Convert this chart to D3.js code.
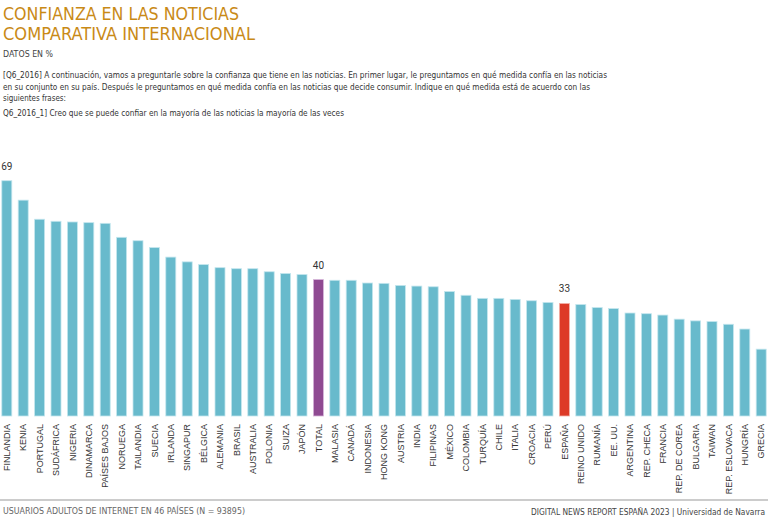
<!DOCTYPE html>
<html><head><meta charset="utf-8">
<script src="https://cdn.jsdelivr.net/npm/d3@7"></script>
<style>
body{margin:0;background:#fff;}
svg{display:block;font-family:"Liberation Sans Narrow","DejaVu Sans Condensed","Roboto Condensed",sans-serif;}
</style></head>
<body><svg id="c" width="768" height="528"></svg>
<script>
const countries = ["FINLANDIA","KENIA","PORTUGAL","SUDÁFRICA","NIGERIA","DINAMARCA","PAÍSES BAJOS","NORUEGA","TAILANDIA","SUECIA","IRLANDA","SINGAPUR","BÉLGICA","ALEMANIA","BRASIL","AUSTRALIA","POLONIA","SUIZA","JAPÓN","TOTAL","MALASIA","CANADÁ","INDONESIA","HONG KONG","AUSTRIA","INDIA","FILIPINAS","MÉXICO","COLOMBIA","TURQUÍA","CHILE","ITALIA","CROACIA","PERÚ","ESPAÑA","REINO UNIDO","RUMANÍA","EE. UU.","ARGENTINA","REP. CHECA","FRANCIA","REP. DE COREA","BULGARIA","TAIWAN","REP. ESLOVACA","HUNGRÍA","GRECIA"];
const trustValues = [69,63.3,57.7,57.1,56.9,56.7,56.5,52.4,51.4,49.4,46.6,45.2,44.4,43.5,43.2,43.2,42.3,41.8,41.5,40,39.8,39.8,39.0,38.9,38.3,38.1,37.9,36.5,35.4,34.5,34.5,34.2,33.8,33.3,33,32.7,31.8,31.5,30.2,30.0,29.6,28.4,27.9,27.7,26.9,25.5,19.6];
const labelled = ["FINLANDIA","TOTAL","ESPAÑA"];
const titleLines = ["CONFIANZA EN LAS NOTICIAS","COMPARATIVA INTERNACIONAL"];
const subtitle = "DATOS EN %";
const questionLines = [
 "[Q6_2016] A continuación, vamos a preguntarle sobre la confianza que tiene en las noticias. En primer lugar, le preguntamos en qué medida confía en las noticias",
 "en su conjunto en su país. Después le preguntamos en qué medida confía en las noticias que decide consumir. Indique en qué medida está de acuerdo con las",
 "siguientes frases:"];
const questionItem = "Q6_2016_1] Creo que se puede confiar en la mayoría de las noticias la mayoría de las veces";
const footLeft = "USUARIOS ADULTOS DE INTERNET EN 46 PAÍSES (N = 93895)";
const footRight = "DIGITAL NEWS REPORT ESPAÑA 2023 | Universidad de Navarra";

const data = countries.map((c,i)=>({c, v: trustValues[i]}));
const svg = d3.select("#c");

// Titles
const tc = "#c98a17";
svg.append("text").attr("x",3).attr("y",20).attr("fill",tc).attr("font-size",17.5)
  .attr("textLength",236).attr("lengthAdjust","spacingAndGlyphs").text(titleLines[0]);
svg.append("text").attr("x",3).attr("y",40).attr("fill",tc).attr("font-size",17.5)
  .attr("textLength",252).attr("lengthAdjust","spacingAndGlyphs").text(titleLines[1]);
svg.append("text").attr("x",3).attr("y",56.5).attr("fill","#444").attr("font-size",9.5)
  .attr("textLength",50).attr("lengthAdjust","spacingAndGlyphs").text(subtitle);

const qy=[78,90,101];
const ql=[604,587,63];
questionLines.forEach((t,i)=>{
  svg.append("text").attr("x",3).attr("y",qy[i]).attr("fill","#333").attr("font-size",8.6)
   .attr("textLength",ql[i]).attr("lengthAdjust","spacingAndGlyphs").text(t);
});
svg.append("text").attr("x",3).attr("y",116).attr("fill","#333").attr("font-size",8.6)
  .attr("textLength",341).attr("lengthAdjust","spacingAndGlyphs").text(questionItem);

// Scales
const x = d3.scaleBand().domain(countries).range([0,768]).paddingInner(0.39).paddingOuter(0.11);
const base = 416;
const y = d3.scaleLinear().domain([0,69]).range([base, base-69*3.41]);

const fillOf = c => c==="TOTAL" ? "#8f4a92" : c==="ESPAÑA" ? "#dd3a27" : "#68bacc";
const strokeOf = c => c==="TOTAL" ? "#d5b3d7" : c==="ESPAÑA" ? "#f3b1a8" : "#c4e6ee";

svg.append("g").selectAll("rect").data(data).join("rect")
  .attr("x",d=>x(d.c)).attr("width",x.bandwidth())
  .attr("y",d=>y(d.v)).attr("height",d=>base-y(d.v))
  .attr("fill",d=>fillOf(d.c)).attr("stroke",d=>strokeOf(d.c)).attr("stroke-width",0.8);

svg.append("g").selectAll("text").data(data.filter(d=>labelled.includes(d.c))).join("text")
  .attr("x",d=>x(d.c)+x.bandwidth()/2).attr("y",d=>y(d.v)-11)
  .attr("text-anchor","middle").attr("font-family","Roboto, 'DejaVu Sans', sans-serif")
  .attr("font-size",10).attr("fill","#333").text(d=>d3.format(".0f")(d.v));

// Axis
const ax = svg.append("g").attr("transform",`translate(0,${base})`).call(d3.axisBottom(x).tickSize(0));
ax.select(".domain").remove();
ax.selectAll("text").attr("font-family",null).attr("font-size",9).attr("fill","#333")
  .attr("transform","rotate(-90)").attr("text-anchor","end")
  .attr("x",-8).attr("y",0).attr("dy","0.35em");

// Footer
svg.append("line").attr("x1",0).attr("x2",768).attr("y1",500).attr("y2",500)
  .attr("stroke","#9a9a9a").attr("stroke-width",1.2);
svg.append("text").attr("x",3).attr("y",514).attr("fill","#666").attr("font-size",9.5)
  .attr("textLength",242).attr("lengthAdjust","spacingAndGlyphs").text(footLeft);
svg.append("text").attr("x",765).attr("y",515).attr("text-anchor","end").attr("fill","#444").attr("font-size",8.3)
  .text(footRight);
</script></body></html>
